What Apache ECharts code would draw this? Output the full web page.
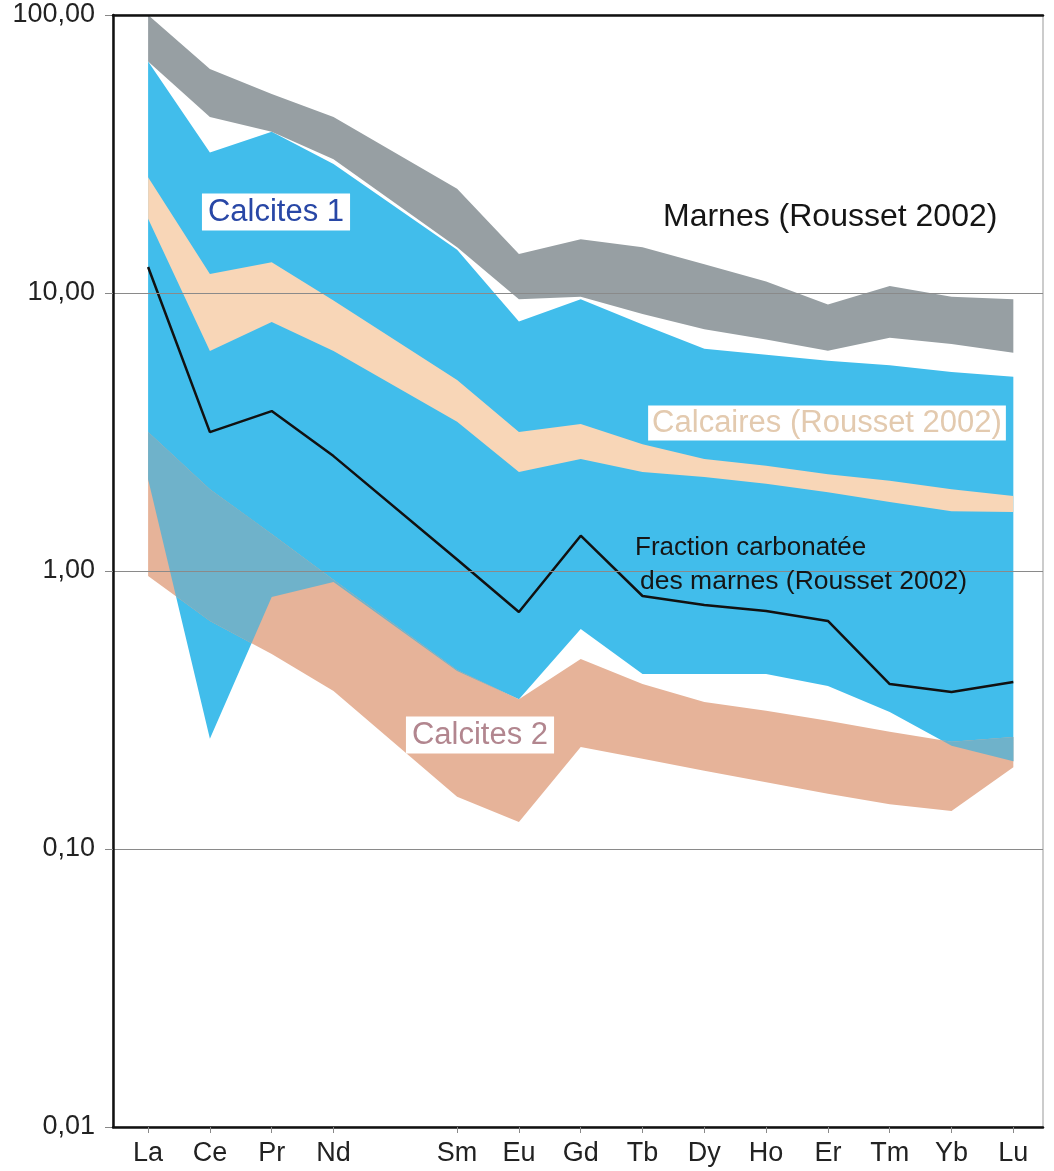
<!DOCTYPE html>
<html>
<head>
<meta charset="utf-8">
<title>Spectres de terres rares</title>
<script src="https://cdn.jsdelivr.net/npm/echarts@6/dist/echarts.min.js"></script>
<style>
  html, body { margin: 0; padding: 0; background: #fff; }
  #chart { width: 1054px; height: 1171px; }
</style>
</head>
<body>
<div id="chart"></div>
<script>
// lanthanides dans l'ordre (Pm n'est pas analysé, il reste un trou)
var ree = ['La', 'Ce', 'Pr', 'Nd', 'Pm', 'Sm', 'Eu', 'Gd', 'Tb', 'Dy', 'Ho', 'Er', 'Tm', 'Yb', 'Lu'];
var elements = ['La', 'Ce', 'Pr', 'Nd', 'Sm', 'Eu', 'Gd', 'Tb', 'Dy', 'Ho', 'Er', 'Tm', 'Yb', 'Lu'];
var yTicks = [0.01, 0.1, 1, 10, 100];

// enveloppes (haut / bas) de chaque domaine
var marnesHaut = [100, 64, 52, 43, 23.7, 13.8, 15.6, 14.6, 12.7, 11.0, 9.1, 10.6, 9.7, 9.5];
var marnesBas = [68, 43, 38, 30.3, 14.6, 9.5, 9.7, 8.4, 7.4, 6.8, 6.2, 6.9, 6.55, 6.1];
var calcites1Haut = [68, 32, 38, 29.1, 14.3, 7.9, 9.5, 7.7, 6.3, 6.0, 5.7, 5.5, 5.2, 5.0];
var calcites1Bas = [2.14, 0.249, 0.806, 0.913, 0.437, 0.346, 0.618, 0.426, 0.426, 0.426, 0.386, 0.311, 0.235, 0.207];
var calcairesHaut = [26.1, 11.7, 12.9, 9.4, 4.86, 3.16, 3.38, 2.86, 2.53, 2.39, 2.23, 2.11, 1.97, 1.86];
var calcairesBas = [18.5, 6.18, 7.87, 6.18, 3.44, 2.27, 2.53, 2.27, 2.18, 2.06, 1.92, 1.77, 1.64, 1.63];
var calcites2Haut = [3.16, 1.97, 1.36, 0.93, 0.44, 0.346, 0.482, 0.392, 0.338, 0.314, 0.289, 0.264, 0.243, 0.253];
var calcites2Bas = [0.96, 0.661, 0.503, 0.370, 0.154, 0.125, 0.233, 0.211, 0.191, 0.174, 0.158, 0.145, 0.137, 0.197];
// fraction carbonatée des marnes
var fraction = [12.4, 3.16, 3.76, 2.59, 1.10, 0.712, 1.34, 0.813, 0.755, 0.718, 0.661, 0.392, 0.367, 0.399];

var xPos = elements.map(function (el) { return ree.indexOf(el); });
var police = '"Liberation Sans", Arial, Helvetica, sans-serif';

function lin(v0, v1, t) { return v0 + (v1 - v0) * t; }
function croise(a0, a1, b0, b1) {
  var den = (a1 - a0) - (b1 - b0);
  if (den === 0) return null;
  var t = (b0 - a0) / den;
  return (t > 0 && t < 1) ? t : null;
}

function bande(haut, bas, couleur) {
  return {
    type: 'custom',
    silent: true,
    data: [[0, 1]],
    renderItem: function (params, api) {
      var pts = [];
      for (var i = 0; i < xPos.length; i++) pts.push(api.coord([xPos[i], haut[i]]));
      for (var j = xPos.length - 1; j >= 0; j--) pts.push(api.coord([xPos[j], bas[j]]));
      return { type: 'polygon', shape: { points: pts }, style: { fill: couleur } };
    }
  };
}

// zone commune Calcites 1 / Calcites 2
function recouvrement(couleur) {
  return {
    type: 'custom',
    silent: true,
    data: [[0, 1]],
    renderItem: function (params, api) {
      var dessus = [], dessous = [];
      var py = function (arr, k) { return api.coord([xPos[k], arr[k]])[1]; };
      for (var i = 0; i < xPos.length - 1; i++) {
        var xa = api.coord([xPos[i], 1])[0], xb = api.coord([xPos[i + 1], 1])[0];
        var h1 = [py(calcites1Haut, i), py(calcites1Haut, i + 1)];
        var h2 = [py(calcites2Haut, i), py(calcites2Haut, i + 1)];
        var b1 = [py(calcites1Bas, i), py(calcites1Bas, i + 1)];
        var b2 = [py(calcites2Bas, i), py(calcites2Bas, i + 1)];
        var ts = [0, 1];
        var c = croise(h1[0], h1[1], h2[0], h2[1]);
        if (c !== null) ts.push(c);
        c = croise(b1[0], b1[1], b2[0], b2[1]);
        if (c !== null) ts.push(c);
        ts.sort(function (a, b) { return a - b; });
        var haut = function (t) { return Math.max(lin(h1[0], h1[1], t), lin(h2[0], h2[1], t)); };
        var bas = function (t) { return Math.min(lin(b1[0], b1[1], t), lin(b2[0], b2[1], t)); };
        var tt = [];
        for (var k = 0; k < ts.length; k++) {
          if (k > 0) {
            var d0 = bas(ts[k - 1]) - haut(ts[k - 1]);
            var d1 = bas(ts[k]) - haut(ts[k]);
            if (d0 * d1 < 0) tt.push(ts[k - 1] + (ts[k] - ts[k - 1]) * d0 / (d0 - d1));
          }
          tt.push(ts[k]);
        }
        tt.forEach(function (t) {
          var x = lin(xa, xb, t), yb = bas(t);
          dessus.push([x, Math.min(haut(t), yb)]);
          dessous.unshift([x, yb]);
        });
      }
      return { type: 'polygon', shape: { points: dessus.concat(dessous) }, style: { fill: couleur } };
    }
  };
}

var chart = echarts.init(document.getElementById('chart'));

var option = {
  backgroundColor: '#fff',
  animation: false,
  grid: { left: 113, right: 11, top: 15, bottom: 44, show: true, borderColor: '#999', borderWidth: 1 },
  xAxis: [{
    type: 'value',
    min: -0.568,
    max: 14.48,
    z: 11,
    axisLine: { show: true, onZero: false, lineStyle: { color: '#111', width: 2.5 } },
    axisTick: { show: true, customValues: xPos, length: 6, lineStyle: { color: '#888' } },
    axisLabel: {
      customValues: xPos,
      formatter: function (v) { return ree[Math.round(v)]; },
      fontSize: 27, fontFamily: police, color: '#222', margin: 13
    },
    splitLine: { show: false }
  }, {
    type: 'value',
    position: 'top',
    min: -0.568,
    max: 14.48,
    z: 11,
    axisLine: { show: true, onZero: false, lineStyle: { color: '#111', width: 2.5 } },
    axisTick: { show: false },
    axisLabel: { show: false },
    splitLine: { show: false }
  }],
  yAxis: {
    type: 'log',
    logBase: 10,
    min: yTicks[0],
    max: yTicks[yTicks.length - 1],
    z: 10,
    axisLine: { show: true, onZero: false, lineStyle: { color: '#111', width: 2.5 } },
    axisTick: { show: true, length: 8, lineStyle: { color: '#888' } },
    axisLabel: {
      formatter: function (v) { return v.toFixed(2).replace('.', ','); },
      fontSize: 27, fontFamily: police, color: '#222', margin: 18
    },
    splitLine: { show: true, lineStyle: { color: '#8a8a8a', width: 1 } }
  },
  series: [
    bande(calcites1Haut, calcites1Bas, '#41bdeb'),
    bande(calcites2Haut, calcites2Bas, '#e6b399'),
    recouvrement('#6fb2ca'),
    bande(calcairesHaut, calcairesBas, '#f8d6b7'),
    bande(marnesHaut, marnesBas, '#979fa3'),
    {
      type: 'line',
      name: 'Fraction carbonatée des marnes',
      data: xPos.map(function (x, i) { return [x, fraction[i]]; }),
      symbol: 'none',
      silent: true,
      z: 5,
      lineStyle: { color: '#111', width: 2.5 }
    }
  ],
  graphic: [
    { type: 'text', z: 100, x: 276, y: 212, style: {
      text: 'Calcites 1', font: '31px ' + police, fill: '#2847a6',
      align: 'center', verticalAlign: 'middle', backgroundColor: '#fff', padding: [3, 6, 3, 6] } },
    { type: 'text', z: 100, x: 663, y: 217, style: {
      text: 'Marnes (Rousset 2002)', font: '32px ' + police, fill: '#151515',
      align: 'left', verticalAlign: 'middle' } },
    { type: 'text', z: 100, x: 827, y: 423, style: {
      text: 'Calcaires (Rousset 2002)', font: '31px ' + police, fill: '#e3caaf',
      align: 'center', verticalAlign: 'middle', backgroundColor: '#fff', padding: [2, 4, 2, 4] } },
    { type: 'text', z: 100, x: 635, y: 548, style: {
      text: 'Fraction carbonatée', font: '26px ' + police, fill: '#151515',
      align: 'left', verticalAlign: 'middle' } },
    { type: 'text', z: 100, x: 640, y: 582, style: {
      text: 'des marnes (Rousset 2002)', font: '26.5px ' + police, fill: '#151515',
      align: 'left', verticalAlign: 'middle' } },
    { type: 'text', z: 100, x: 480, y: 735, style: {
      text: 'Calcites 2', font: '31px ' + police, fill: '#b2868f',
      align: 'center', verticalAlign: 'middle', backgroundColor: '#fff', padding: [3, 6, 3, 6] } }
  ]
};

chart.setOption(option);
</script>
</body>
</html>
